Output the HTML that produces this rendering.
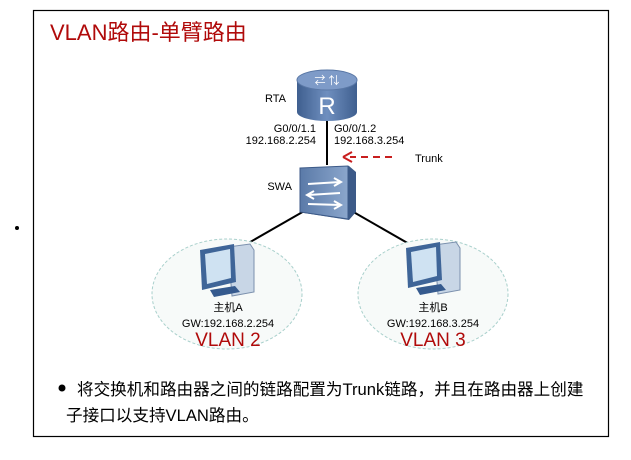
<!DOCTYPE html>
<html><head><meta charset="utf-8"><style>
body{margin:0;background:#fff;width:631px;height:455px;overflow:hidden;font-family:"Liberation Sans","Noto Sans CJK SC",sans-serif}
</style></head><body>
<svg width="631" height="455" viewBox="0 0 631 455" xmlns="http://www.w3.org/2000/svg" font-family="Liberation Sans, Noto Sans CJK SC, sans-serif">
<defs>
<linearGradient id="rg" x1="0" x2="1"><stop offset="0" stop-color="#3f5f8f"/><stop offset="0.5" stop-color="#6f8fbf"/><stop offset="1" stop-color="#3f5f8f"/></linearGradient>
<linearGradient id="sg" x1="0" x2="1"><stop offset="0" stop-color="#5a7aa8"/><stop offset="1" stop-color="#8ba6cc"/></linearGradient>
</defs>
<circle cx="17" cy="228" r="2" fill="#000"/>
<rect x="33.5" y="10.5" width="575" height="426" fill="none" stroke="#000" stroke-width="1.2"/>
<text x="50" y="40" font-size="22" fill="#b00a0a">VLAN路由-单臂路由</text>
<line x1="327" y1="118" x2="327" y2="165" stroke="#000" stroke-width="2"/>
<line x1="306" y1="210" x2="245" y2="245" stroke="#000" stroke-width="2"/>
<line x1="350" y1="210" x2="411" y2="245" stroke="#000" stroke-width="2"/>
<line x1="392" y1="157" x2="350" y2="157" stroke="#c81e1e" stroke-width="2" stroke-dasharray="7,5"/>
<path d="M343 157 L352 152 M343 157 L352 162" stroke="#c81e1e" stroke-width="2" fill="none"/>
<text x="415" y="162" font-size="11" fill="#000">Trunk</text>
<path d="M297 80 L297 112 A30 9 0 0 0 357 112 L357 80 Z" fill="url(#rg)"/>
<ellipse cx="327" cy="80" rx="30" ry="10" fill="#7e9bc8" stroke="#5a78a6"/>
<text x="327" y="84" font-size="11" fill="#fff" text-anchor="middle">⇄ ⇅</text>
<text x="327" y="114" font-size="24" fill="#fff" text-anchor="middle">R</text>
<text x="286" y="102" font-size="11" text-anchor="end">RTA</text>
<text x="316" y="132" font-size="11" text-anchor="end">G0/0/1.1</text>
<text x="316" y="144" font-size="11" text-anchor="end">192.168.2.254</text>
<text x="334" y="132" font-size="11">G0/0/1.2</text>
<text x="334" y="144" font-size="11">192.168.3.254</text>
<path d="M304 170 L349 166 L356 172 L356 212 L349 220 L304 213 Z" fill="#3c5a88"/>
<path d="M300 168 L348 166 L348 219 L300 212 Z" fill="url(#sg)" stroke="#3c5a88"/>
<path d="M308 184 L340 182 M334 178 L341 182 L334 186 M340 193 L308 195 M314 191 L307 195 L314 199 M308 204 L340 205 M334 201 L341 205 L334 209" stroke="#fff" stroke-width="2" fill="none"/>
<text x="292" y="190" font-size="11" text-anchor="end">SWA</text>
<ellipse cx="227" cy="294" rx="75" ry="55" fill="#f7faf9" stroke="#a9d0cc" stroke-dasharray="3,2"/>
<ellipse cx="433" cy="294" rx="75" ry="55" fill="#f7faf9" stroke="#a9d0cc" stroke-dasharray="3,2"/>
<g id="pc">
<path d="M228 247 L250 244 L254 250 L254 292 L232 296 Z" fill="#c8d6e6" stroke="#7b90ad"/>
<path d="M200 250 L234 244 L236 282 L202 290 Z" fill="#3f6598"/>
<path d="M205 254 L230 249 L231 278 L207 284 Z" fill="#cfe2f2"/>
<path d="M210 290 L235 286 L240 292 L214 297 Z" fill="#355a8e"/>
</g>
<use href="#pc" x="206" y="-2"/>
<text x="228" y="311" font-size="11" text-anchor="middle">主机A</text>
<text x="228" y="327" font-size="11" text-anchor="middle">GW:192.168.2.254</text>
<text x="228" y="346" font-size="19" fill="#b00a0a" text-anchor="middle">VLAN 2</text>
<text x="433" y="311" font-size="11" text-anchor="middle">主机B</text>
<text x="433" y="327" font-size="11" text-anchor="middle">GW:192.168.3.254</text>
<text x="433" y="346" font-size="19" fill="#b00a0a" text-anchor="middle">VLAN 3</text>
<circle cx="62" cy="388" r="3.5" fill="#000"/>
<text x="77" y="395" font-size="16.6">将交换机和路由器之间的链路配置为Trunk链路，并且在路由器上创建</text>
<text x="66" y="421" font-size="16.6">子接口以支持VLAN路由。</text>
</svg>
</body></html>
